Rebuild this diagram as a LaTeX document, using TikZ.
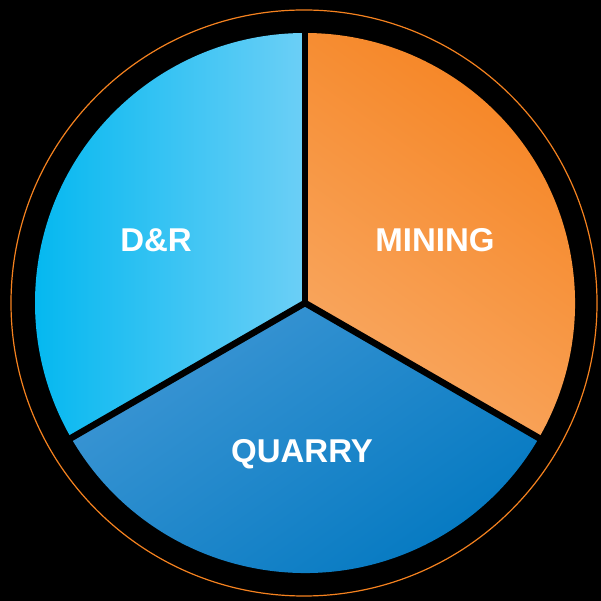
\documentclass[tikz,border=0pt]{standalone}
\usepackage{fontspec}
\setmainfont{Liberation Sans}
\definecolor{drL}{HTML}{05B8F0}
\definecolor{drR}{HTML}{6CCFF6}
\definecolor{minT}{HTML}{F5821F}
\definecolor{minB}{HTML}{F9A862}
\definecolor{quaT}{HTML}{3D96D4}
\definecolor{quaB}{HTML}{0077C0}
\definecolor{ring}{HTML}{F5821F}
\tikzset{
  lbl/.style={text=white, font=\fontsize{33}{33}\selectfont\bfseries, inner sep=0pt, anchor=base},
  divider/.style={draw=black, line width=6.5pt},
}
\begin{document}
\begin{tikzpicture}[x=1pt,y=1pt]
\fill[black] (0,0) rectangle (601,601);
\useasboundingbox (0,0) rectangle (601,601);
\coordinate (c) at (305,298);
\draw[ring, line width=1.2pt] (304,298) circle (293);
% sectors
\shade[left color=drL, right color=drR] (c) -- ++(90:270) arc[start angle=90, end angle=210, radius=270] -- cycle;
\shade[top color=minT, bottom color=minB, shading angle=-35] (c) -- ++(-30:270) arc[start angle=-30, end angle=90, radius=270] -- cycle;
\shade[top color=quaT, bottom color=quaB, shading angle=35] (c) -- ++(210:270) arc[start angle=210, end angle=330, radius=270] -- cycle;
% dividers
\path (c) ++(90:276) coordinate (d1);
\path (c) ++(210:276) coordinate (d2);
\path (c) ++(330:276) coordinate (d3);
\draw[divider] (c) -- (d1);
\draw[divider] (c) -- (d2);
\draw[divider] (c) -- (d3);
\fill[black] (c) circle (3.2);
% labels
\node[lbl] (dr) at (156,349) {D\&R};
\node[lbl] (mining) at (435,349) {MINING};
\node[lbl] (quarry) at (302,138) {QUARRY};
\end{tikzpicture}
\end{document}
